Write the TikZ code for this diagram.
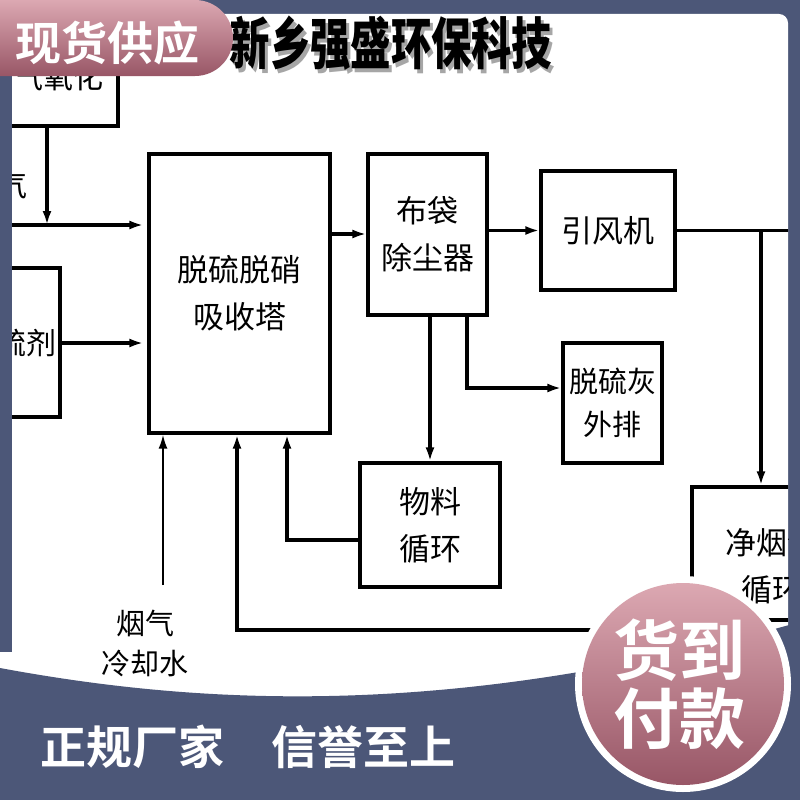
\documentclass[tikz,border=0pt]{standalone}
\usepackage{fontspec}
\newfontfamily\cjk{Noto Sans CJK SC}
\newfontfamily\cjkb{Noto Sans CJK SC Bold}
\newfontfamily\cjkh{Noto Sans CJK SC Black}
\usetikzlibrary{arrows.meta,calc}
\definecolor{bg}{RGB}{76,87,120}
\definecolor{pinkA}{RGB}{220,168,178}
\definecolor{pinkB}{RGB}{152,86,102}
\begin{document}
\begin{tikzpicture}[x=1pt,y=-1pt,
  box/.style={draw, line width=3.2pt, inner sep=0pt, align=center, font=\cjk\fontsize{31}{47}\selectfont},
  lbl/.style={font=\cjk\fontsize{30}{44}\selectfont, align=center, inner sep=0pt},
  con/.style={line width=3.2pt},
  arr/.style={con, -{Latex[length=14pt,width=9pt]}},
  wtext/.style={text=white, inner sep=0pt, align=center}]
\useasboundingbox (0,0) rectangle (800,800);
% background and panel
\fill[bg] (0,0) rectangle (800,800);
\fill[white, rounded corners=9pt] (12,14) rectangle (788,760);
\fill[white] (0,652) rectangle (100,760);
\begin{scope}
\clip (12,14) rectangle (788,760);
% boxes
\node[box, minimum width=150pt, minimum height=150pt] (ox) at (43,51) {};
\node[lbl, anchor=east] (oxt) at (104,77) {气氧化};
\node[lbl, anchor=east] (yq) at (28,185) {烟气};
\node[box, minimum width=100pt, minimum height=149pt] (tj) at (10,342.5) {};
\node[lbl, anchor=east] (tjt) at (57,343) {脱硫剂};
\node[box, minimum width=181pt, minimum height=279pt] (abs) at (239.5,293.5) {脱硫脱硝\\吸收塔};
\node[box, minimum width=119pt, minimum height=161pt] (bd) at (427.5,234.5) {布袋\\除尘器};
\node[box, minimum width=134pt, minimum height=119pt] (yf) at (608,230.5) {引风机};
\node[box, minimum width=150pt, minimum height=133pt] (jy) at (767,553.5) {};
\node[lbl, font=\cjk\fontsize{31}{47}\selectfont] (jyt) at (772,566) {净烟气\\循环};
\node[box, minimum width=140pt, minimum height=124pt] (wl) at (430,525) {物料\\循环};
\node[box, minimum width=99pt, minimum height=120pt, font=\cjk\fontsize{29}{43}\selectfont] (th) at (612.5,403) {脱硫灰\\外排};
\node[lbl, font=\cjk\fontsize{29}{40}\selectfont] (lq) at (145,643) {烟气\\冷却水};
% connectors
\coordinate (j1) at (47,225);
\coordinate (lf) at (0,225);
\draw[arr] (ox.south -| j1) -- (j1);
\draw[arr, shorten >=4pt] (lf) -- (abs.west |- lf);
\draw[arr, shorten >=4pt] (tj.east |- tjt) -- (abs.west |- tjt);
\coordinate (r234) at (0,234);
\draw[arr] (abs.east |- r234) -- (bd.west |- r234);
\draw[arr] (bd.east |- yf) -- (yf.west);
\coordinate (re) at (800,230.5);
\draw[con] (yf.east) -- (re);
\coordinate (b1) at (761,230.5);
\draw[arr] (b1) -- (b1 |- jy.north);
\draw[arr] (bd.south -| wl) -- (wl.north);
\coordinate (c287) at (287,540);
\draw[arr] (wl.west |- c287) -- (c287) -- (c287 |- abs.south);
\coordinate (c467) at (467,388);
\draw[arr] (bd.south -| c467) -- (c467) -- (th.west |- c467);
\coordinate (c705) at (705,630);
\coordinate (c237) at (237,630);
\draw[arr] (jy.south -| c705) -- (c705) -- (c237) -- (c237 |- abs.south);
\coordinate (c163) at (163,585);
\draw[line width=2pt, -{Latex[length=14pt,width=9pt]}] (c163) -- (c163 |- abs.south);
\end{scope}
% title
\node[font=\cjkh\fontsize{56}{56}\selectfont, text=black!35, xscale=0.72, inner sep=0pt] (tsh) at (394,47) {新乡强盛环保科技};
\node[font=\cjkh\fontsize{56}{56}\selectfont, text=black, xscale=0.72, inner sep=0pt] (title) at (391,43) {新乡强盛环保科技};
% badge
\shade[top color=pinkA, bottom color=pinkB, rounded corners=38pt] (-50,0) rectangle (233,76);
\node[wtext, font=\cjkb\fontsize{46}{46}\selectfont] (badge) at (108,43) {现货供应};
% bottom band
\fill[bg] (0,668) .. controls (200,705) and (450,720) .. (800,622) -- (800,800) -- (0,800) -- cycle;
\node[wtext, font=\cjkb\fontsize{46}{46}\selectfont] (t1) at (132,747) {正规厂家};
\node[wtext, font=\cjkb\fontsize{46}{46}\selectfont] (t2) at (363,747) {信誉至上};
% circle
\fill[white] (683,684) circle (108pt);
\shade[top color=pinkA, bottom color=pinkB] (683,684) circle (101pt);
\node[wtext, font=\cjkb\fontsize{66}{68}\selectfont] (pay) at (679,684) {货到\\付款};
\end{tikzpicture}
\end{document}
